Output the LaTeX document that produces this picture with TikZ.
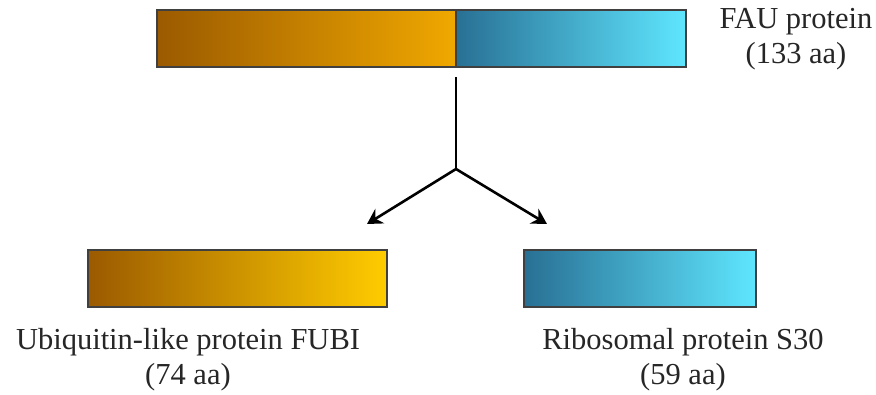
\documentclass[tikz,border=0pt]{standalone}
\usepackage{fontspec}
\setmainfont{Liberation Serif}
\usetikzlibrary{arrows.meta}
\definecolor{ubiDark}{RGB}{155,90,0}
\definecolor{ubiMid}{RGB}{240,168,0}
\definecolor{ubiLight}{RGB}{255,204,0}
\definecolor{rpsDark}{RGB}{40,112,148}
\definecolor{rpsLight}{RGB}{95,230,255}
\tikzset{
  bar/.style={draw=black!75, line width=1.3pt, inner sep=0pt, outer sep=0pt},
  label/.style={font=\fontsize{30.5}{35}\selectfont, text=black!85, align=center, inner sep=0pt},
  flow/.style={line width=2.6pt, -{Stealth[length=15pt,width=17pt,inset=5pt]}},
}
\begin{document}
\begin{tikzpicture}[x=1pt,y=-1pt]
  \useasboundingbox (0,0) rectangle (876,394);
  % full-length precursor, split into its two domains
  \path[left color=ubiDark, right color=ubiMid] (157,10) rectangle (456,67);
  \path[left color=rpsDark, right color=rpsLight] (456,10) rectangle (686,67);
  \node[bar, minimum width=529pt, minimum height=57pt, anchor=north west] (fau) at (157,10) {};
  \draw[black!75, line width=1.3pt] (456,10) -- (456,67);
  \coordinate (split) at (456,77);
  \coordinate (fork) at (456,169);
  % cleavage products
  \node[bar, left color=ubiDark, right color=ubiLight, minimum width=299pt, minimum height=57pt, anchor=north west] (fubi) at (88,250) {};
  \node[bar, left color=rpsDark, right color=rpsLight, minimum width=232pt, minimum height=57pt, anchor=north west] (s30) at (524,250) {};
  \coordinate (tipL) at (367,224);
  \coordinate (tipR) at (547,224);
  \draw[line width=2.6pt] (split) -- (fork);
  \draw[flow] (fork) -- (tipL);
  \draw[flow] (fork) -- (tipR);
  % captions
  \node[label] (fauT) at (796,39) {FAU protein\\(133 aa)};
  \node[label] (fubiT) at (188,360) {Ubiquitin-like protein FUBI\\(74 aa)};
  \node[label] (s30T) at (683,360) {Ribosomal protein S30\\(59 aa)};
\end{tikzpicture}
\end{document}
